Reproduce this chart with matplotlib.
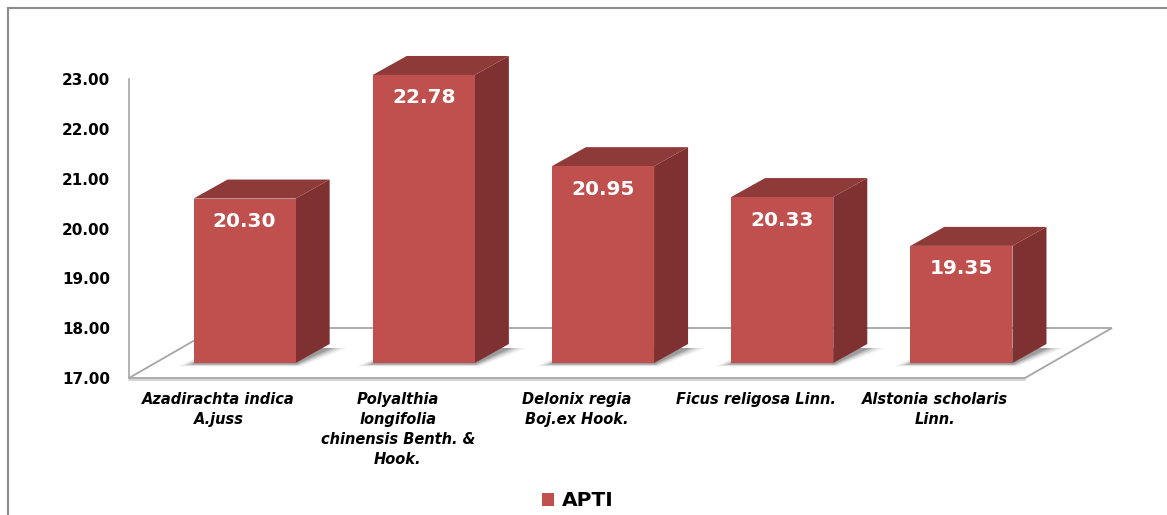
import matplotlib
matplotlib.use("Agg")
import matplotlib.pyplot as plt
import matplotlib.transforms as mtransforms
from matplotlib.patches import Polygon
from matplotlib.lines import Line2D
import numpy as np

categories = ["Azadirachta indica\nA.juss",
              "Polyalthia\nlongifolia\nchinensis Benth. &\nHook.",
              "Delonix regia\nBoj.ex Hook.",
              "Ficus religosa Linn.",
              "Alstonia scholaris\nLinn."]
values = [20.30, 22.78, 20.95, 20.33, 19.35]
series_name = "APTI"
yticks = [17, 18, 19, 20, 21, 22, 23]
ytick_labels = ["%.2f" % t for t in yticks]

W, H, DPI = 1167, 515, 100
fig = plt.figure(figsize=(W / DPI, H / DPI), dpi=DPI)
fig.patch.set_facecolor("white")

left_px, right_px = 129, 1025
bot_px, top_px = 378, 79
ax = fig.add_axes([left_px / W, 1 - bot_px / H, (right_px - left_px) / W, (bot_px - top_px) / H])
ax.set_xlim(-0.5, 4.5)
ax.set_ylim(17, 23)
ax.patch.set_alpha(0)
for s in ax.spines.values():
    s.set_visible(False)

front_col = "#C0504D"
side_col = "#7E3130"
top_col = "#8E3A38"
grid_col = "#A6A6A6"

floor_depth = np.array([87, 50])
bar_front = np.array([26, 15])
bar_back = np.array([60, 34])
bar_w = 0.57

def to_disp(x, y):
    return ax.transData.transform((x, y))

ident = mtransforms.IdentityTransform()

# floor
f0 = to_disp(-0.5, 17)
f1 = to_disp(4.5, 17)
floor = np.array([f0, f1, f1 + floor_depth, f0 + floor_depth])
ax.add_patch(Polygon(floor, closed=True, facecolor="white", edgecolor=grid_col,
                     lw=1.3, transform=ident, zorder=1, clip_on=False))
ax.add_line(Line2D([f0[0], f1[0]], [f0[1] - 1.5, f1[1] - 1.5], color="#D0D0D0", lw=1.2,
                   transform=ident, zorder=1, clip_on=False))
a0 = to_disp(-0.5, 17)
a1 = to_disp(-0.5, 23)
ax.add_line(Line2D([a0[0], a1[0]], [a0[1], a1[1]], color=grid_col, lw=1.2,
                   transform=ident, zorder=1, clip_on=False))

x = np.arange(len(values))
dd = bar_back - bar_front

# soft shadows on the floor (blurred footprint, spreading left and right)
for i, v in enumerate(values):
    bl = to_disp(i - bar_w / 2, 17) + bar_front
    br = to_disp(i + bar_w / 2, 17) + bar_front
    for k, a in zip([16, 12, 8, 5, 2], [0.05, 0.07, 0.09, 0.11, 0.13]):
        poly = np.array([bl + (-k, -1 - k * 0.15), br + (k * 0.3, -1 - k * 0.15),
                         br + dd + (k * 1.1, -4), bl + dd + (-k * 0.6, -4)])
        ax.add_patch(Polygon(poly, closed=True, facecolor="black", edgecolor="none",
                             alpha=a, transform=ident, zorder=2, clip_on=False))

front_tr = ax.transData + mtransforms.ScaledTranslation(bar_front[0] / DPI, bar_front[1] / DPI,
                                                         fig.dpi_scale_trans)
bars = ax.bar(x, np.array(values) - 17, bottom=17, width=bar_w, color=front_col,
              edgecolor="none", transform=front_tr, zorder=4, label=series_name, clip_on=False)

for i, v in enumerate(values):
    rb = to_disp(i + bar_w / 2, 17) + bar_front
    rt = to_disp(i + bar_w / 2, v) + bar_front
    lt = to_disp(i - bar_w / 2, v) + bar_front
    side = np.array([rb, rt, rt + dd, rb + dd])
    top = np.array([lt, rt, rt + dd, lt + dd])
    ax.add_patch(Polygon(side, closed=True, facecolor=side_col, edgecolor="none",
                         transform=ident, zorder=3, clip_on=False))
    ax.add_patch(Polygon(top, closed=True, facecolor=top_col, edgecolor="none",
                         transform=ident, zorder=3, clip_on=False))

lab_tr = mtransforms.offset_copy(ax.transData, fig=fig, x=bar_front[0] / DPI,
                                 y=(bar_front[1] - 23) / DPI, units="inches")
for i, v in enumerate(values):
    ax.text(i, v, "%.2f" % v, transform=lab_tr, ha="center", va="center",
            color="white", fontsize=14.5, fontweight="bold", family="DejaVu Sans",
            zorder=6, clip_on=False)

ax.set_yticks(yticks)
ax.set_yticklabels(ytick_labels, fontsize=11, fontweight="bold", family="DejaVu Sans")
ax.tick_params(axis="y", length=0, pad=13.5)
ax.set_xticks(x)
ax.set_xticklabels(categories, fontsize=10.5, fontweight="bold", style="oblique",
                   family="DejaVu Sans", linespacing=1.42)
ax.tick_params(axis="x", length=0, pad=10)

fig.legend(handles=[bars], labels=[series_name], loc="center",
           bbox_to_anchor=(578 / W, 1 - 501 / H), frameon=False,
           prop={"family": "DejaVu Sans", "weight": "bold", "size": 14.5},
           handlelength=0.6, handleheight=0.6, handletextpad=0.4)

fig.add_artist(Line2D([8 / W, 8 / W], [0, 1 - 8 / H], color="#8C8C8C", lw=1.5,
                      transform=fig.transFigure))
fig.add_artist(Line2D([8 / W, 1], [1 - 8 / H, 1 - 8 / H], color="#8C8C8C", lw=1.5,
                      transform=fig.transFigure))

fig.savefig("out.png", dpi=DPI)
